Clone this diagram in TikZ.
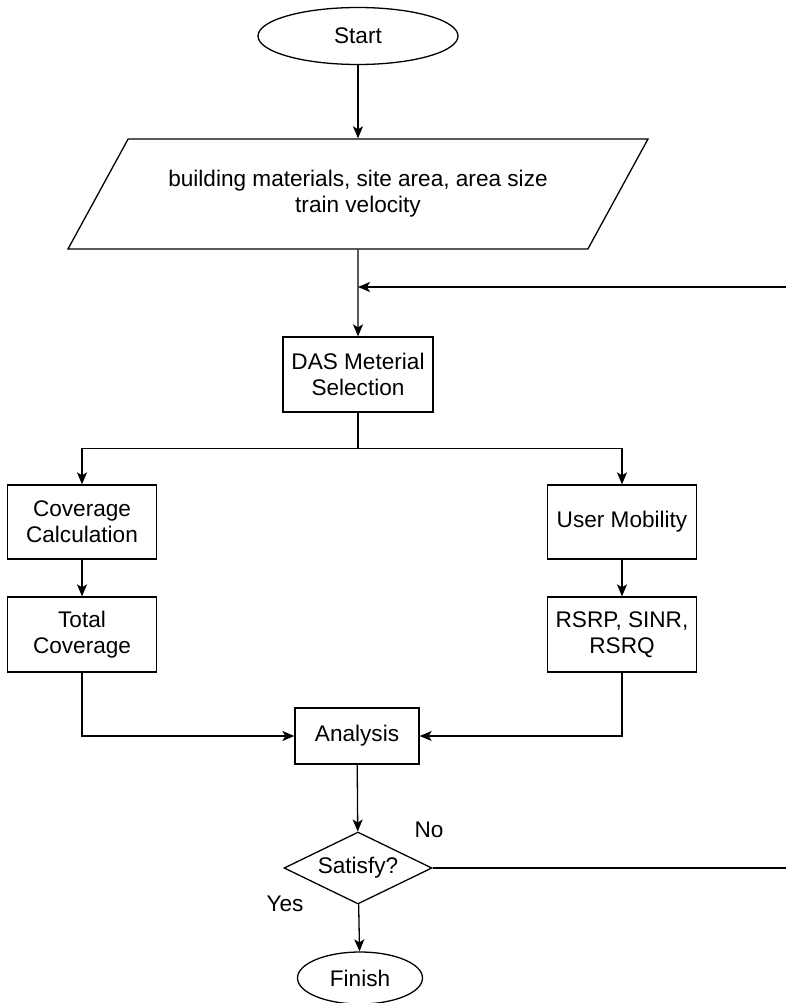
\documentclass[tikz,border=0pt]{standalone}
\usepackage{fontspec}
\setmainfont{Liberation Sans}
\usetikzlibrary{shapes.geometric}
\usetikzlibrary{arrows.meta}
\tikzset{
	box/.style={draw, rectangle, minimum width=149pt, minimum height=75pt, inner sep=0pt, align=center},
	terminal/.style={draw, ellipse, inner sep=0pt},
	io/.style={draw, trapezium, trapezium left angle=43.5, trapezium right angle=136.5,
		trapezium stretches=true, minimum width=584pt, minimum height=110pt, inner sep=0pt, align=center},
	decision/.style={draw, diamond, aspect=2, minimum width=148pt, minimum height=72pt, inner sep=0pt},
	arr/.style={-{Stealth[length=12pt, width=10pt, inset=3pt]}}
}

\begin{document}
\begin{tikzpicture}[x=1pt, y=-1pt, line width=1.3pt, font=\fontsize{22.6}{26}\selectfont]
	\useasboundingbox (0,0) rectangle (785,1003);
	\node[terminal, minimum width=200pt, minimum height=57pt] (start) at (358,36) {Start};
	\node[io] (input) at (358,194) {building materials, site area, area size\\train velocity};
	\node[box, minimum width=150pt] (das) at (358,374.5) {DAS Meterial\\Selection};
	\node[box, minimum height=74pt] (cov) at (82,522) {Coverage\\Calculation};
	\node[box] (tot) at (82,634.5) {Total\\Coverage};
	\node[box, minimum height=74pt] (mob) at (622,522) {User Mobility};
	\node[box] (rsrp) at (622,634.5) {RSRP, SINR,\\RSRQ};
	\node[box, minimum width=124pt, minimum height=56pt] (ana) at (357,736) {Analysis};
	\node[decision] (sat) at (358,868) {Satisfy?};
	\node[terminal, minimum width=125pt, minimum height=52pt] (fin) at (360,978) {Finish};
	\node (no) at (429,830) {No};
	\node (yes) at (285,904) {Yes};
	\coordinate (back) at (358,287);
	\draw[arr] (start) -- (input);
	\draw[arr] (input) -- (das);
	\draw[arr] (sat.east) -- ++(360,0) |- (back);
	\draw (das.south) -- ++(0,36) coordinate (split);
	\draw[arr] (split) -| (cov.north);
	\draw[arr] (split) -| (mob.north);
	\draw[arr] (cov) -- (tot);
	\draw[arr] (mob) -- (rsrp);
	\draw[arr] (tot.south) |- (ana.west);
	\draw[arr] (rsrp.south) |- (ana.east);
	\draw[arr] (ana) -- (sat);
	\draw[arr] (sat) -- (fin);
\end{tikzpicture}
\end{document}
